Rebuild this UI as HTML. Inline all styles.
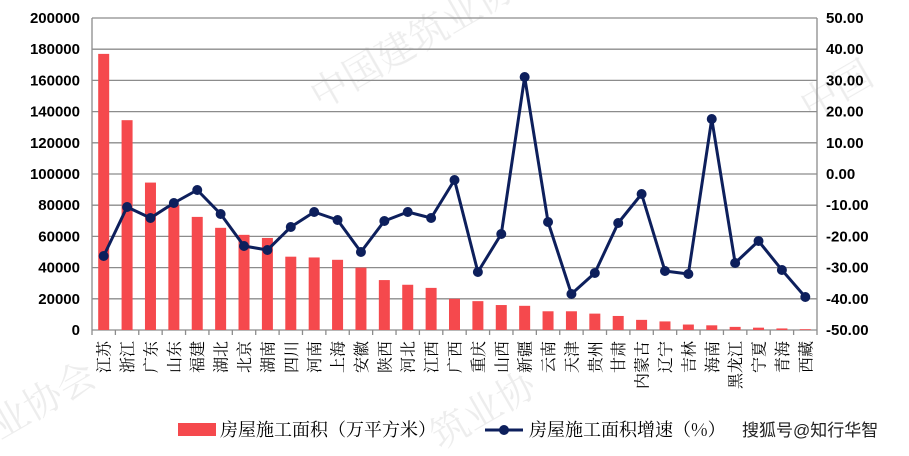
<!DOCTYPE html>
<html><head><meta charset="utf-8"><style>
html,body{margin:0;padding:0;background:#fff;width:909px;height:456px;overflow:hidden;}
svg{display:block;font-family:"Liberation Sans","Noto Sans CJK SC",sans-serif;}
</style></head><body>
<svg width="909" height="456" viewBox="0 0 909 456" xmlns="http://www.w3.org/2000/svg" overflow="hidden">
<g fill="#e6e6e6" font-size="38" font-family="'Noto Serif CJK SC',serif" opacity="0.7">
<text x="320" y="110" transform="rotate(-30 320 110)">中国建筑业协</text>
<text x="0" y="440" transform="rotate(-30 0 440)">业协会</text>
<text x="440" y="450" transform="rotate(-30 440 450)">筑业协</text>
<text x="810" y="120" transform="rotate(-30 810 120)">中国</text>
</g>
<g id="grid" stroke="#8c8c8c" stroke-width="1.3"></g>
<g id="bars" fill="#f5494d"></g>
<line x1="92" y1="18" x2="92" y2="330" stroke="#8c8c8c" stroke-width="1.3"/>
<line x1="817" y1="18" x2="817" y2="330" stroke="#8c8c8c" stroke-width="1.3"/>
<g id="ticks" stroke="#8c8c8c" stroke-width="1.3"></g>
<polyline id="line" fill="none" stroke="#0d1f5c" stroke-width="3" stroke-linejoin="round"/>
<g id="dots" fill="#0d1f5c"></g>
<g id="ly" font-size="15" font-weight="bold" text-anchor="end" fill="#000"></g>
<g id="ry" font-size="15" font-weight="bold" text-anchor="start" fill="#000"></g>
<g id="xl" font-size="16" fill="#000" font-family="'Noto Serif CJK SC',serif"></g>
<rect x="178" y="423" width="38" height="13" fill="#f5494d"/>
<text x="220" y="436" font-size="18" font-family="'Noto Serif CJK SC',serif">房屋施工面积（万平方米）</text>
<line x1="485" y1="430" x2="523" y2="430" stroke="#0d1f5c" stroke-width="3"/>
<circle cx="504" cy="430" r="5" fill="#0d1f5c"/>
<text x="529" y="436" font-size="18" font-family="'Noto Serif CJK SC',serif">房屋施工面积增速（%）</text>
<text x="742" y="436" font-size="17" fill="#222">搜狐号@知行华智</text>
</svg>
<script>
const ns="http://www.w3.org/2000/svg";
function el(p,t,a,txt){const e=document.createElementNS(ns,t);for(const k in a)e.setAttribute(k,a[k]);if(txt!==undefined)e.textContent=txt;document.getElementById(p).appendChild(e);return e;}
const names=["江苏","浙江","广东","山东","福建","湖北","北京","湖南","四川","河南","上海","安徽","陕西","河北","江西","广西","重庆","山西","新疆","云南","天津","贵州","甘肃","内蒙古","辽宁","吉林","海南","黑龙江","宁夏","青海","西藏"];
const vals=[177000,134500,94500,80000,72500,65500,61000,59000,47000,46500,45000,40000,32000,29000,27000,20000,18500,16000,15500,12000,12000,10500,9000,6500,5500,3500,3000,2000,1500,1000,500];
const ly=[256,207,218,203,190,214,246,250,227,212,220,252,221,212,218,180,272,234,77,222,294,273,223,194,271,274,119,263,241,270,297];
for(let k=0;k<=10;k++){const y=18+k*31.2;if(k<10)el("grid","line",{x1:92,y1:y,x2:817,y2:y});
el("ly","text",{x:80,y:y+5},String(200000-k*20000));
const r=50-k*10;el("ry","text",{x:826,y:y+5},(r<0?"-":"")+Math.abs(r).toFixed(2));}
el("grid","line",{x1:92,y1:330,x2:817,y2:330});
const w=23.387;let pts=[];
for(let i=0;i<31;i++){const cx=92+w/2+i*w;const h=vals[i]*0.00156;
el("bars","rect",{x:cx-5.5,y:330-h,width:11,height:h});
el("ticks","line",{x1:92+i*w,y1:330,x2:92+i*w,y2:335});
pts.push(cx+","+ly[i]);el("dots","circle",{cx:cx,cy:ly[i],r:5});
el("xl","text",{x:0,y:0,transform:`translate(${cx+6},341) rotate(-90)`,"text-anchor":"end"},names[i]);}
el("ticks","line",{x1:817,y1:330,x2:817,y2:335});
document.getElementById("line").setAttribute("points",pts.join(" "));
</script>
</body></html>
